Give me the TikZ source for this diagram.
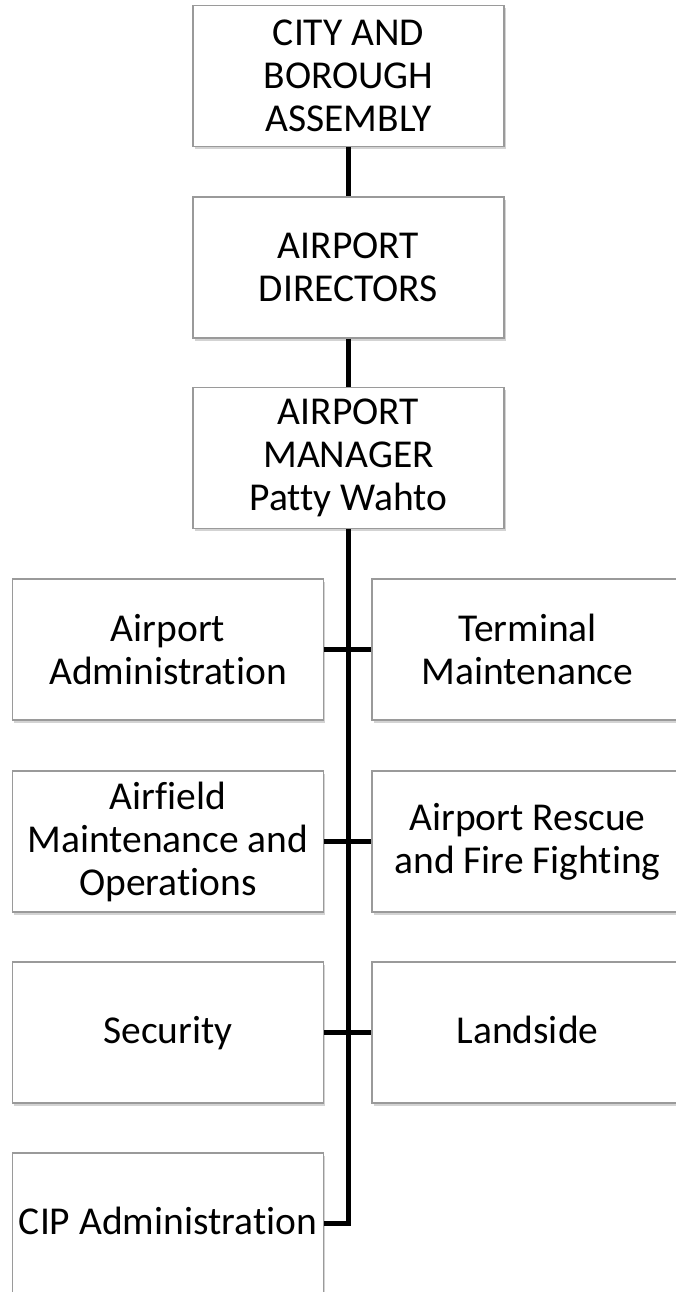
\documentclass[tikz,border=0pt]{standalone}
\usepackage{fontspec}
\setmainfont{Carlito}[Ligatures=NoCommon]
\usetikzlibrary{shadows}
\definecolor{boxline}{HTML}{9A9A9A}

\tikzset{
  unitbox/.style={draw=boxline,line width=1.2pt,fill=white,
    minimum width=311pt,minimum height=141pt,inner sep=0pt,
    align=center,font=\fontsize{39.5}{43}\selectfont,
    drop shadow={shadow xshift=1.5pt,shadow yshift=-2.5pt,opacity=.35}},
  oneline/.style={text height=30pt,text depth=9pt},
  link/.style={black,line width=5.5pt}
}

\begin{document}
\begin{tikzpicture}[x=1pt,y=-1pt]
        \useasboundingbox (0,0) rectangle (675,1292);
        \node[unitbox] (assembly) at (348.5,76) {CITY AND\\BOROUGH\\ASSEMBLY};
        \node[unitbox] (directors) at (348.5,267.5) {AIRPORT\\DIRECTORS};
        \node[unitbox] (manager) at (348.5,458) {AIRPORT\\MANAGER\\Patty Wahto};
        \node[unitbox] (admin) at (168,649.5) {Airport\\Administration};
        \node[unitbox] (terminal) at (527.5,649.5) {Terminal\\Maintenance};
        \node[unitbox] (airfield) at (168,841.5) {Airfield\\Maintenance and\\Operations};
        \node[unitbox] (arff) at (527.5,841.5) {Airport Rescue\\and Fire Fighting};
        \node[unitbox,oneline] (security) at (168,1032.5) {Security};
        \node[unitbox,oneline] (landside) at (527.5,1032.5) {Landside};
        \node[unitbox,oneline] (cip) at (168,1223.5) {CIP Administration};
        \draw[link] (assembly) -- (directors);
        \draw[link] (directors) -- (manager);
        \draw[link] (manager.south) |- (cip.east);
        \draw[link] (admin.east) -- (terminal.west);
        \draw[link] (airfield.east) -- (arff.west);
        \draw[link] (security.east) -- (landside.west);
      \end{tikzpicture}
\end{document}
